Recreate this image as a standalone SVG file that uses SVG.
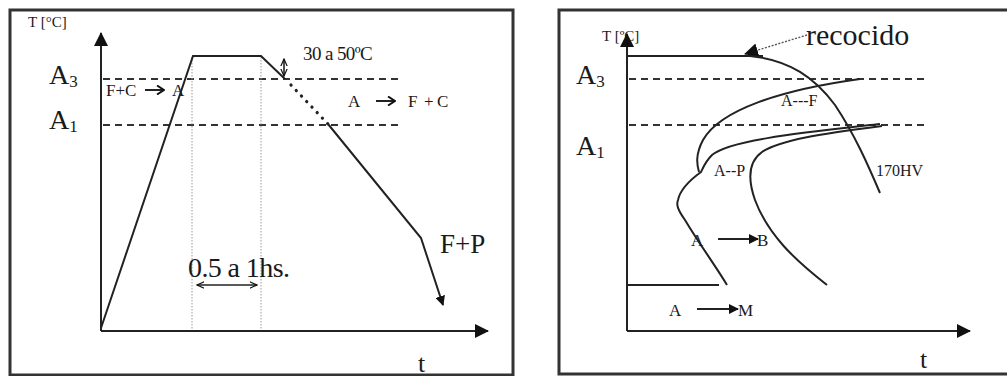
<svg xmlns="http://www.w3.org/2000/svg" width="1007" height="376" viewBox="0 0 1007 376" font-family="'Liberation Serif', 'Times New Roman', serif">
<defs>
<style>
.frame{fill:none;stroke:#333;stroke-width:3}
.ln{fill:none;stroke:#222;stroke-width:2}
.thin{fill:none;stroke:#222;stroke-width:1.6}
.dash{fill:none;stroke:#333;stroke-width:2;stroke-dasharray:7,5}
.vdot{fill:none;stroke:#999;stroke-width:1;stroke-dasharray:1.5,1.5}
.dots{fill:none;stroke:#222;stroke-width:3.2;stroke-linecap:round;stroke-dasharray:0.1,7.5}
text{fill:#1a1a1a}
.big{font-size:28px}
.sub{font-size:17px}
.sm{font-size:16px}
</style>
<marker id="ah" viewBox="0 0 10 10" refX="9" refY="5" markerWidth="10" markerHeight="10" markerUnits="userSpaceOnUse" orient="auto">
<path d="M0,0 L10,5 L0,10 Z" fill="#111"/>
</marker>
<marker id="axh" viewBox="0 0 14 14" refX="13" refY="7" markerWidth="14" markerHeight="14" markerUnits="userSpaceOnUse" orient="auto">
<path d="M0,0 L14,7 L0,14 Z" fill="#111"/>
</marker>
<marker id="oh" viewBox="0 0 10 10" refX="9" refY="5" markerWidth="8" markerHeight="8" markerUnits="userSpaceOnUse" orient="auto-start-reverse">
<path d="M0,1 L9,5 L0,9" fill="none" stroke="#111" stroke-width="1.5"/>
</marker>
<marker id="oh2" viewBox="0 0 10 10" refX="9" refY="5" markerWidth="10" markerHeight="10" markerUnits="userSpaceOnUse" orient="auto">
<path d="M2,0.5 L9,5 L2,9.5" fill="none" stroke="#111" stroke-width="2"/>
</marker>
</defs>

<!-- Left panel -->
<g id="left-panel">
<rect class="frame" x="10" y="10" width="503" height="365"/>
<text x="28" y="27" font-size="15">T [°C]</text>
<text class="big" x="49" y="84">A<tspan class="sub" dy="3">3</tspan></text>
<text class="big" x="49" y="129">A<tspan class="sub" dy="3">1</tspan></text>
<text x="418" y="372" font-size="26">t</text>
</g>

<g id="left-connectors">
<line class="ln" x1="101" y1="331" x2="101" y2="33" marker-end="url(#axh)"/>
<line class="ln" x1="101" y1="331" x2="488" y2="331" marker-end="url(#axh)"/>
<line class="dash" x1="103" y1="79" x2="400" y2="79"/>
<line class="dash" x1="103" y1="125" x2="400" y2="125"/>
<line class="vdot" x1="192" y1="57" x2="192" y2="330"/>
<line class="vdot" x1="261" y1="57" x2="261" y2="330"/>
<polyline class="ln" points="101,328 193,56 261,56 285,79"/>
<line class="dots" x1="291" y1="85" x2="328" y2="124"/>
<polyline class="ln" points="328,124 421,238 443,305" marker-end="url(#ah)"/>
<line class="thin" x1="197" y1="285" x2="257" y2="285" marker-start="url(#oh)" marker-end="url(#oh)"/>
<line class="thin" x1="284" y1="59" x2="284" y2="76" marker-start="url(#oh)" marker-end="url(#oh)"/>
<line class="ln" x1="145" y1="90" x2="164" y2="90" marker-end="url(#oh2)"/>
<line class="ln" x1="376" y1="101" x2="395" y2="101" marker-end="url(#oh2)"/>
</g>

<g id="left-labels">
<text id="t-fc-a" x="106" y="96" font-size="17">F+C<tspan x="172">A</tspan></text>
<text id="t-a-fc" x="348" y="107" font-size="17">A<tspan x="408">F</tspan><tspan x="424">+</tspan><tspan x="437">C</tspan></text>
<text id="t-3050" x="303" y="60" font-size="19" letter-spacing="-0.6">30 a 50ºC</text>
<text id="t-time" x="188" y="277" font-size="28" letter-spacing="-0.6">0.5 a 1hs.</text>
<text id="t-fp" x="440" y="253" font-size="27">F+P</text>
</g>

<!-- Right panel -->
<g id="right-panel">
<path class="frame" d="M1010,10 H559 V374 H1010"/>
<text x="602" y="41" font-size="15">T [ºC]</text>
<text class="big" x="576" y="84">A<tspan class="sub" dy="3">3</tspan></text>
<text class="big" x="576" y="155">A<tspan class="sub" dy="3">1</tspan></text>
<text x="920" y="368" font-size="26">t</text>
</g>

<g id="right-connectors">
<line class="ln" x1="627" y1="331" x2="627" y2="34" marker-end="url(#axh)"/>
<line class="ln" x1="627" y1="331" x2="970" y2="331" marker-end="url(#axh)"/>
<line class="dash" x1="629" y1="79" x2="927" y2="79"/>
<line class="dash" x1="629" y1="125" x2="927" y2="125"/>
<line class="ln" x1="627" y1="56" x2="763" y2="56"/>
<line x1="807" y1="35" x2="745" y2="54" stroke="#555" stroke-width="1.4" stroke-dasharray="2,1.5" marker-end="url(#axh)"/>
<path class="ln" d="M750,56 C790,60 815,78 835,105 C855,135 868,165 880,193"/>
<path class="ln" d="M860,79 C780,90 720,110 703,140 C695,155 697,165 699,172"/>
<path class="ln" d="M880,124 C800,133 730,140 712,155 C705,162 703,168 701,172 C690,180 680,190 678,200 C676,205 678,210 685,220 C700,245 715,265 727,285"/>
<path class="ln" d="M882,126 C820,134 780,140 762,152 C748,162 748,180 755,200 C768,235 795,260 827,285"/>
<line class="ln" x1="627" y1="285" x2="719" y2="285"/>
<line class="ln" x1="697" y1="309" x2="738" y2="309" marker-end="url(#ah)"/>
<line class="ln" x1="718" y1="239" x2="758" y2="239" marker-end="url(#ah)"/>
</g>

<g id="right-labels">
<text id="t-recocido" x="806" y="45" font-size="30">recocido</text>
<text id="t-170hv" x="876" y="176" font-size="16">170HV</text>
<text id="t-af" x="781" y="106" font-size="16">A---F</text>
<text id="t-ap" x="714" y="176" font-size="16">A--P</text>
<text id="t-ab" x="691" y="246" font-size="17">A<tspan x="757">B</tspan></text>
<text id="t-am" x="669" y="316" font-size="17">A<tspan x="738">M</tspan></text>
</g>
</svg>
